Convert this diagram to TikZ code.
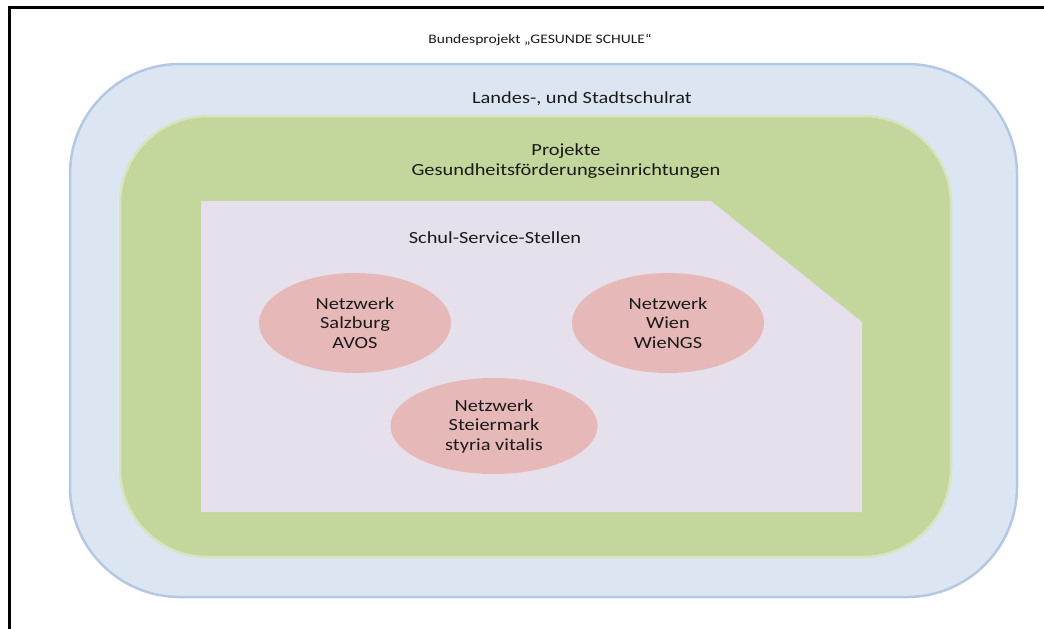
\documentclass[tikz,border=0pt]{standalone}
\usepackage{fontspec}
\setmainfont{Carlito}[FakeStretch=1.2]
\usetikzlibrary{shapes.geometric}
\definecolor{txt}{HTML}{1A1A1A}
\definecolor{bluefill}{HTML}{DCE6F2}
\definecolor{blueline}{HTML}{B4C8E4}
\definecolor{greenfill}{HTML}{C3D69B}
\definecolor{greenline}{HTML}{D7E4BD}
\definecolor{lavfill}{HTML}{E5E0EC}
\definecolor{pinkfill}{HTML}{E6B9B8}
\tikzset{
  lbl/.style={text=txt, font=\fontsize{17}{19.5}\selectfont, align=center, inner sep=0pt},
  netz/.style={ellipse, fill=pinkfill, draw=none, inner sep=0pt, text=txt,
    font=\fontsize{17}{19.5}\selectfont, align=center}
}
\begin{document}
\begin{tikzpicture}[x=1pt,y=-1pt]
\useasboundingbox (0,0) rectangle (1044,629);
\clip (0,0) rectangle (1044,629);
\draw[line width=3pt] (9.5,7.5) rectangle (1070,660);
\draw[fill=bluefill, draw=blueline, line width=2.5pt, rounded corners=110pt] (70,64) rectangle (1017,597);
\draw[fill=greenfill, draw=greenline, line width=2.5pt, rounded corners=88pt] (120,116) rectangle (951,557);
\fill[lavfill] (201,201) -- (711,201) -- (862,322) -- (862,512) -- (201,512) -- cycle;
\node[netz, minimum width=192pt, minimum height=100pt] (sbg) at (355,323) {Netzwerk\\Salzburg\\AVOS};
\node[netz, minimum width=192pt, minimum height=100pt] (wien) at (668,323) {Netzwerk\\Wien\\WieNGS};
\node[netz, minimum width=207pt, minimum height=96pt] (stm) at (494,426) {Netzwerk\\Steiermark\\styria vitalis};
\node[lbl, font=\fontsize{13}{16}\selectfont] (bund) at (540,40) {Bundesprojekt „GESUNDE SCHULE“};
\node[lbl] (land) at (582,99) {Landes-, und Stadtschulrat};
\node[lbl] (proj) at (566,161) {Projekte\\Gesundheitsförderungseinrichtungen};
\node[lbl] (sss) at (495,238) {Schul-Service-Stellen};
\end{tikzpicture}
\end{document}
